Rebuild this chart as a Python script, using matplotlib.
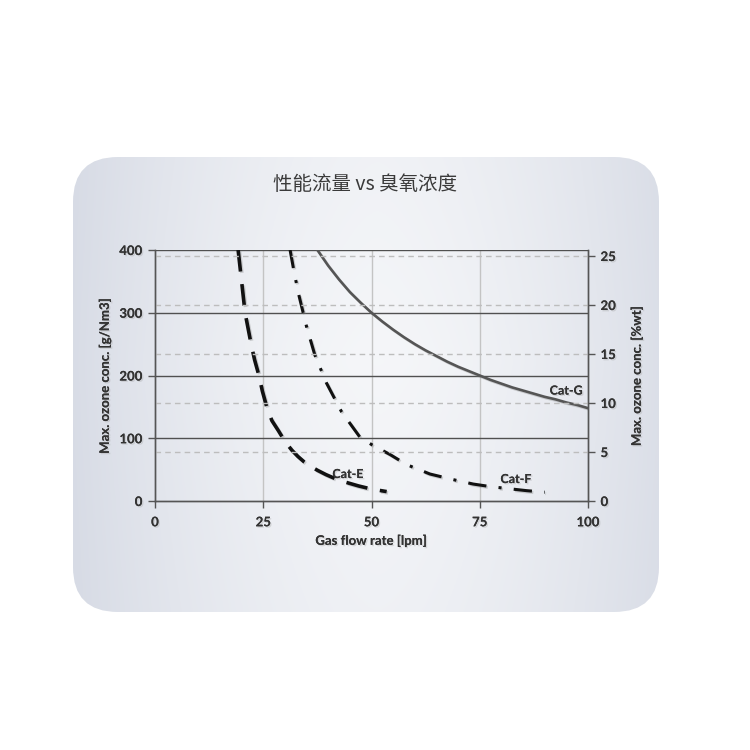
import numpy as np
import matplotlib
matplotlib.use("Agg")
import matplotlib.pyplot as plt
from matplotlib.patches import FancyBboxPatch
import matplotlib.patheffects as pe

# ---------------- data ----------------
cat_g_x = [37.5, 40, 42.5, 45, 47.5, 50, 52.5, 55, 57.5, 60, 62.5, 65, 67.5, 70,
           72.5, 75, 77.5, 80, 82.5, 85, 87.5, 90, 92.5, 95, 97.5, 100]
cat_g_y = [400, 375, 353, 333, 316, 300, 286, 273, 261, 250, 240, 231, 222, 214,
           207, 200, 193, 187, 181, 176, 171, 166, 162, 157, 153, 148]

cat_e_x = [19.2, 19.6, 20.0, 20.4, 20.8, 21.5, 22.2, 23.0, 24.0, 24.8, 25.8, 27.0,
           28.5, 30.0, 31.6, 33.0, 34.5, 36.0, 37.5, 39.5, 41.5, 44.0, 47.0, 50.0, 53.5]
cat_e_y = [400, 375, 350, 325, 300, 275, 250, 225, 200, 175, 150, 128,
           112, 95, 81, 71, 62, 55, 49, 42, 36, 30, 24, 19, 15]

cat_f_x = [31.2, 32.2, 33.3, 35.0, 36.9, 39.6, 43.1, 47.3, 50.0, 54.3, 58.1,
           63.5, 68.9, 73.5, 77.4, 81.2, 85.8, 90.0]
cat_f_y = [400, 362, 326, 278, 233, 188, 142, 102, 90, 74, 58,
           43, 34, 27, 23, 20, 16.5, 14]

x_ticks = [0, 25, 50, 75, 100]
left_ticks = [0, 100, 200, 300, 400]
right_ticks = [0, 5, 10, 15, 20, 25]

title = "性能流量 vs 臭氧浓度"
xlabel = "Gas flow rate [lpm]"
ylabel_left = "Max. ozone conc. [g/Nm3]"
ylabel_right = "Max. ozone conc. [%wt]"

# ---------------- figure ----------------
plt.rcParams['font.family'] = ['Lato', 'DejaVu Sans']
fig = plt.figure(figsize=(7.5, 7.5), dpi=100)
fig.patch.set_facecolor('white')

# background panel
bg = fig.add_axes([0, 0, 1, 1])
bg.set_xlim(0, 750)
bg.set_ylim(750, 0)
bg.axis('off')
nx, ny = 300, 200
xs = np.linspace(0, 1, nx)
ys = np.linspace(0, 1, ny)
X, Y = np.meshgrid(xs, ys)
horiz = 1 - 0.9 * np.abs(X - 0.52) ** 1.6 * 2.2
vert = 1 - 0.25 * np.abs(Y - 0.45)
light = np.clip(horiz * vert, 0, 1)
c_dark = np.array([0.80, 0.82, 0.87])
c_light = np.array([0.96, 0.965, 0.975])
img = c_dark + (c_light - c_dark) * light[..., None]
panel = FancyBboxPatch((73 + 45, 157 + 45), 586 - 90, 455 - 90,
                       boxstyle="round,pad=45", linewidth=0,
                       facecolor='none', transform=bg.transData)
bg.add_patch(panel)
im = bg.imshow(img, extent=(73, 659, 612, 157), aspect='auto', zorder=0)
im.set_clip_path(panel)

shadow = [pe.withSimplePatchShadow(offset=(1, -1), shadow_rgbFace='#999999', alpha=0.3), pe.Normal()]
lshadow = [pe.SimpleLineShadow(offset=(1, -1), shadow_color='#777777', alpha=0.3), pe.Normal()]

fig.text(365 / 750, 1 - 185 / 750, title, ha='center', va='center', fontsize=14,
         color='#3a3a3a', family=['Noto Sans CJK SC', 'DejaVu Sans'])

ax = fig.add_axes([155 / 750, 1 - 501 / 750, (588 - 155) / 750, (501 - 250) / 750])
ax.patch.set_alpha(0)
ax.set_xlim(0, 100)
ax.set_ylim(0, 400)

ax2 = ax.twinx()
ax2.set_ylim(0, 25 * 251 / 245)
ax2.set_yticks(right_ticks)
for v in right_ticks[1:]:
    ax2.axhline(v, color='#bdbdbd', lw=1.0, ls=(0, (4, 3)), zorder=0)

for v in x_ticks[1:-1]:
    ax.axvline(v, color='#c4c4c4', lw=1.0, zorder=1)
for v in left_ticks[1:]:
    ax.axhline(v, color='#505050', lw=1.0, zorder=1)

ax.plot(cat_g_x, cat_g_y, color='#555555', lw=1.9, zorder=3, path_effects=lshadow)
ax.plot(cat_e_x, cat_e_y, color='#111111', lw=2.6, dashes=(6, 3.5), zorder=3, path_effects=lshadow)
ax.plot(cat_f_x, cat_f_y, color='#111111', lw=2.2, dashes=(6, 4, 1, 4), zorder=3, path_effects=lshadow)

ax.text(95, 176, "Cat-G", ha='center', va='center', fontsize=9, fontweight='bold', color='#333333', path_effects=shadow)
ax.text(44.6, 43, "Cat-E", ha='center', va='center', fontsize=9, fontweight='bold', color='#333333', path_effects=shadow)
ax.text(83.4, 35, "Cat-F", ha='center', va='center', fontsize=9, fontweight='bold', color='#333333', path_effects=shadow)

ax.set_xticks(x_ticks)
ax.set_yticks(left_ticks)
for a in (ax, ax2):
    for s in a.spines.values():
        s.set_color('#555555')
        s.set_linewidth(1.0)
    a.spines['top'].set_visible(False)
    a.tick_params(colors='#555555', labelcolor='#333333', labelsize=9.5, length=5, width=1.0, pad=4)
    for lab in a.get_xticklabels() + a.get_yticklabels():
        lab.set_fontweight('bold')
        lab.set_path_effects(shadow)

ax.tick_params(axis='x', pad=6)
ax.set_xlabel(xlabel, fontsize=9.5, fontweight='bold', color='#333333', labelpad=4, path_effects=shadow)
ax.set_ylabel(ylabel_left, fontsize=9.5, fontweight='bold', color='#333333', labelpad=6, path_effects=shadow)
ax2.set_ylabel(ylabel_right, fontsize=9.5, fontweight='bold', color='#333333', labelpad=10, path_effects=shadow)

fig.savefig("out.png", dpi=100, facecolor='white')
